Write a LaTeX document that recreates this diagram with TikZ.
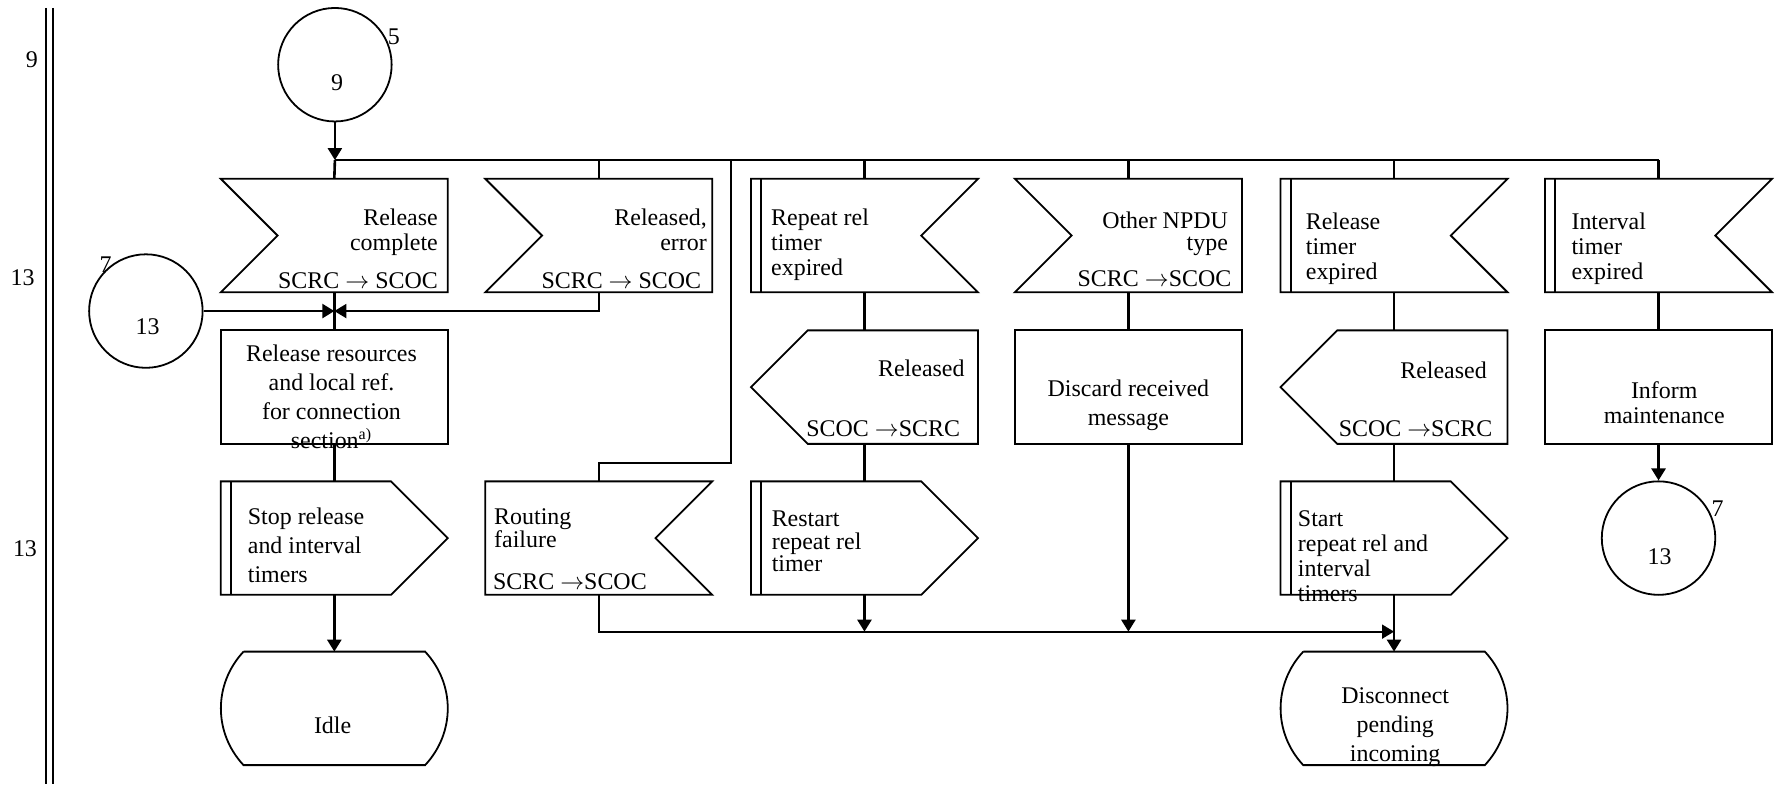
\documentclass[tikz,border=0pt]{standalone}
\usepackage{fontspec}
\setmainfont{Liberation Serif}
\usetikzlibrary{arrows.meta}
\tikzset{
  blk/.style={rectangle,minimum width=4cm,minimum height=2cm,inner sep=0pt,outer sep=0pt},
  box/.style={line width=0.9pt,line join=miter},
  flow/.style={line width=1.3pt},
  wire/.style={line width=0.9pt},
  arr/.style={-{Triangle[length=6pt,width=7pt]}},
  txt/.style={inner sep=0pt,font=\fontsize{12}{12.5}\selectfont},
  txtw/.style={inner sep=0pt,font=\fontsize{12}{14.5}\selectfont},
  txtn/.style={inner sep=0pt,font=\fontsize{12}{11.4}\selectfont},
  num/.style={circle,draw,line width=0.9pt,minimum size=2cm,inner sep=0pt}
}
\newcommand{\inL}[1]{\draw[box] (#1.north west) -- (#1.north east) -- (#1.south east) -- (#1.south west) -- ([xshift=1cm]#1.west) -- cycle;}
\newcommand{\inR}[1]{\draw[box] (#1.north west) -- (#1.north east) -- ([xshift=-1cm]#1.east) -- (#1.south east) -- (#1.south west) -- cycle;}
\newcommand{\outL}[1]{\draw[box] (#1.west) -- ([xshift=1cm]#1.north west) -- (#1.north east) -- (#1.south east) -- ([xshift=1cm]#1.south west) -- cycle;}
\newcommand{\outR}[1]{\draw[box] (#1.north west) -- ([xshift=-1cm]#1.north east) -- (#1.east) -- ([xshift=-1cm]#1.south east) -- (#1.south west) -- cycle;}
\newcommand{\tbar}[1]{\draw[box] ([xshift=.18cm]#1.north west) -- ([xshift=.18cm]#1.south west);}
\newcommand{\stateB}[1]{\draw[box] ([xshift=.4cm]#1.north west) -- ([xshift=-.4cm]#1.north east) to[bend left=43] ([xshift=-.4cm]#1.south east) -- ([xshift=.4cm]#1.south west) to[bend left=43] ([xshift=.4cm]#1.north west);}

\begin{document}
\begin{tikzpicture}[x=0.02cm,y=-0.02cm]
\useasboundingbox (0,0) rectangle (1568,691);
\foreach \x in {40.5,47}{\draw[wire] (\x,7) -- (\x,691);}
\node[txt] (lab9) at (28,53) {9};
\node[txt] (lab13a) at (20,245) {13};
\node[txt] (lab13b) at (22,483) {13};

\node[num] (c9) at (295,57) {};
\node[txt] (n9) at (297,73) {9};
\node[txt] (l5) at (347,32) {5};
\node[num] (c13a) at (128.5,274) {};
\node[txt] (n13a) at (130,288) {13};
\node[txt] (l7a) at (93,233.5) {7};
\node[num] (c13b) at (1461,474) {};
\node[txt] (n13b) at (1462,490) {13};
\node[txt] (l7b) at (1513,448) {7};

\node[blk] (rc) at (294.5,207.5) {};
\node[blk] (re) at (527.5,207.5) {};
\node[blk] (rp) at (761.5,207.5) {};
\node[blk] (np) at (994,207.5) {};
\node[blk] (rt) at (1228,207.5) {};
\node[blk] (it) at (1461,207.5) {};
\inL{rc} \inL{re} \inR{rp} \tbar{rp} \inL{np} \inR{rt} \tbar{rt} \inR{it} \tbar{it}

\node[blk] (rr) at (294.5,341) {};
\node[blk] (ro1) at (761.5,341) {};
\node[blk] (dm) at (994,341) {};
\node[blk] (ro2) at (1228,341) {};
\node[blk] (im) at (1461,341) {};
\draw[box] (rr.north west) rectangle (rr.south east);
\draw[box] (dm.north west) rectangle (dm.south east);
\draw[box] (im.north west) rectangle (im.south east);
\outL{ro1} \outL{ro2}

\node[blk] (sp) at (294.5,474) {};
\node[blk] (rf) at (527.5,474) {};
\node[blk] (rs) at (761.5,474) {};
\node[blk] (sr) at (1228,474) {};
\outR{sp} \tbar{sp} \inR{rf} \outR{rs} \tbar{rs} \outR{sr} \tbar{sr}

\node[blk] (idle) at (294.5,624) {};
\node[blk] (dp) at (1228,624) {};
\stateB{idle} \stateB{dp}

\node[txt,align=right,anchor=north east] (t-rc) at (386,183.5) {Release\\complete};
\node[txt,anchor=north east] (s-rc) at (386,240) {SCRC $\rightarrow$ SCOC};
\node[txt,align=right,anchor=north east] (t-re) at (623,184) {Released,\\error};
\node[txt,anchor=north east] (s-re) at (618,240) {SCRC $\rightarrow$ SCOC};
\node[txt,align=left,anchor=north west] (t-rp) at (679,183.5) {Repeat rel\\timer\\expired};
\node[txtn,align=right,anchor=north east] (t-np) at (1082,186) {Other NPDU\\type};
\node[txt,anchor=north east] (s-np) at (1085,238) {SCRC $\rightarrow$SCOC};
\node[txt,align=left,anchor=north west] (t-rt) at (1150,187.5) {Release\\timer\\expired};
\node[txt,align=left,anchor=north west] (t-it) at (1384,187) {Interval\\timer\\expired};

\node[txtw,align=center,anchor=north] (t-rr) at (292,303.5) {Release resources\\and local ref.\\for connection\\section\textsuperscript{a)}};
\node[txt,anchor=north east] (t-ro1) at (850,316.5) {Released};
\node[txt,anchor=north east] (s-ro1) at (846,370) {SCOC $\rightarrow$SCRC};
\node[txtw,align=center,anchor=north] (t-dm) at (994,334.5) {Discard received\\message};
\node[txt,anchor=north east] (t-ro2) at (1310,318.5) {Released};
\node[txt,anchor=north east] (s-ro2) at (1315,370) {SCOC $\rightarrow$SCRC};
\node[txt,align=center,anchor=north] (t-im) at (1466,336) {Inform\\maintenance};

\node[txtw,align=left,anchor=north west] (t-sp) at (218,447) {Stop release\\and interval\\timers};
\node[txtn,align=left,anchor=north west] (t-rf) at (435,447.5) {Routing\\failure};
\node[txt,anchor=north west] (s-rf) at (434,505) {SCRC $\rightarrow$SCOC};
\node[txtn,align=left,anchor=north west] (t-rs) at (679.5,449.5) {Restart\\repeat rel\\timer};
\node[txt,align=left,anchor=north west] (t-sr) at (1143,449.5) {Start\\repeat rel and\\interval\\timers};

\node[txt] (t-idle) at (293,638.6) {Idle};
\node[txtw,align=center,anchor=north] (t-dp) at (1229,605.5) {Disconnect\\pending\\incoming};

\coordinate (tbus) at (0,141);
\coordinate (bbus) at (0,556.4);
\coordinate (tap) at (644,407.6);
\draw[flow,arr] (c9) -- (c9 |- tbus);
\draw[wire] (c9 |- tbus) -- (it.north |- tbus);
\draw[flow] (c9 |- tbus) -- (rc.north);
\foreach \n in {re,rp,np,rt,it}{\draw[flow] (\n.north |- tbus) -- (\n.north);}
\draw[wire] (tap |- tbus) -- (tap) -| (rf.north);

\draw[flow] (rc.south) -- (rr.north);
\draw[flow,arr] (c13a) -- (rc.south |- c13a);
\draw[wire,arr] (re.south) |- (rc.south |- c13a);
\foreach \a/\b in {rp/ro1,np/dm,rt/ro2,it/im,rr/sp,ro1/rs,ro2/sr}{\draw[flow] (\a.south) -- (\b.north);}
\draw[flow,arr] (im.south) -- (c13b);

\draw[flow,arr] (sp.south) -- (idle.north);
\draw[flow,arr] (rs.south) -- (rs.south |- bbus);
\draw[flow,arr] (dm.south) -- (dm.south |- bbus);
\draw[wire,arr] (rf.south) |- (sr.south |- bbus);
\draw[flow,arr] (sr.south) -- (dp.north);
\end{tikzpicture}
\end{document}
